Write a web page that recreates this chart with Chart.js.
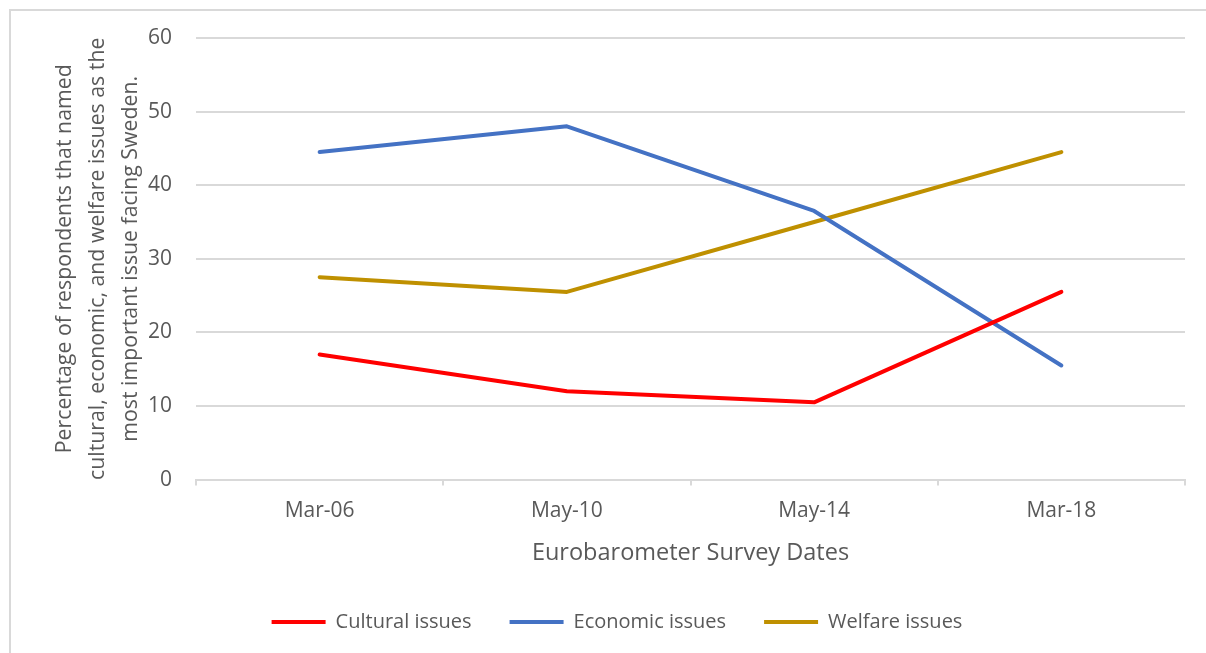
<!DOCTYPE html>
<html>
<head>
<meta charset="utf-8">
<script src="https://cdn.jsdelivr.net/npm/chart.js@4/dist/chart.umd.min.js"></script>
<style>
    body { margin: 0; background: #fff; overflow: hidden; }
    #frame { position: absolute; left: 9px; top: 9px; width: 1400px; height: 900px; border: 2px solid #d9d9d9; }
    #wrap { position: absolute; left: 0; top: 0; width: 1206px; height: 653px; }
</style>
</head>
<body>
<div id="frame"></div>
<div id="wrap"><canvas id="myChart"></canvas></div>
<script>
// 調查日期與各議題比例
var surveyDates = ['Mar-06', 'May-10', 'May-14', 'Mar-18'];
var culturalData = [17, 12, 10.5, 25.5];
var economicData = [44.5, 48, 36.5, 15.5];
var welfareData = [27.5, 25.5, 35, 44.5];
var yTicks = [0, 10, 20, 30, 40, 50, 60];

var textColor = '#595959';
var gridColor = '#d9d9d9';
var fontName = "'Open Sans', 'Noto Sans', sans-serif";

function makeSeries(label, data, color) {
    return {
        label: label,
        data: data,
        borderColor: color,
        backgroundColor: color,
        borderWidth: 4,
        borderCapStyle: 'round',
        borderJoinStyle: 'round',
        pointRadius: 0,
        pointHoverRadius: 0,
        tension: 0,
        fill: false
    };
}

var ctx = document.getElementById('myChart').getContext('2d');
var myChart = new Chart(ctx, {
    type: 'line',
    data: {
        labels: surveyDates,
        datasets: [
            makeSeries('Cultural issues', culturalData, '#ff0000'),
            makeSeries('Economic issues', economicData, '#4472c4'),
            makeSeries('Welfare issues', welfareData, '#bf9000')
        ]
    },
    options: {
        responsive: true,
        maintainAspectRatio: false,
        animation: false,
        layout: {
            padding: { left: 49, right: 21, top: 38, bottom: 11 }
        },
        scales: {
            x: {
                offset: true,
                grid: {
                    offset: true,
                    drawOnChartArea: false,
                    drawTicks: true,
                    tickLength: 6,
                    color: gridColor,
                    lineWidth: 2
                },
                border: { display: true, color: gridColor, width: 2 },
                ticks: {
                    color: textColor,
                    font: { family: fontName, size: 21 },
                    padding: 13
                },
                title: {
                    display: true,
                    text: 'Eurobarometer Survey Dates',
                    color: textColor,
                    font: { family: fontName, size: 23.5 },
                    padding: { top: 2, bottom: 7 }
                }
            },
            y: {
                min: 0,
                max: 60,
                afterBuildTicks: function (axis) {
                    axis.ticks = yTicks.map(function (v) { return { value: v }; });
                },
                afterFit: function (axis) {
                    axis.width = 147; // 標題 + 刻度文字的固定寬度
                },
                grid: {
                    color: function (context) {
                        return context.tick.value === 0 ? 'rgba(0,0,0,0)' : gridColor;
                    },
                    lineWidth: 2,
                    drawTicks: false
                },
                border: { display: false },
                ticks: {
                    color: textColor,
                    font: { family: fontName, size: 21 },
                    padding: 24
                },
                title: {
                    display: true,
                    text: [
                        'Percentage of respondents that named',
                        'cultural, economic, and welfare issues as the',
                        'most important issue facing Sweden.'
                    ],
                    color: textColor,
                    font: { family: fontName, size: 21.3, lineHeight: 1.53 },
                    padding: { top: 0, bottom: 4 }
                }
            }
        },
        plugins: {
            legend: {
                position: 'bottom',
                labels: {
                    color: textColor,
                    font: { family: fontName, size: 20 },
                    usePointStyle: true,
                    pointStyle: 'line',
                    pointStyleWidth: 54,
                    boxHeight: 4,
                    padding: 38
                }
            },
            tooltip: { enabled: false }
        }
    }
});
</script>
</body>
</html>
